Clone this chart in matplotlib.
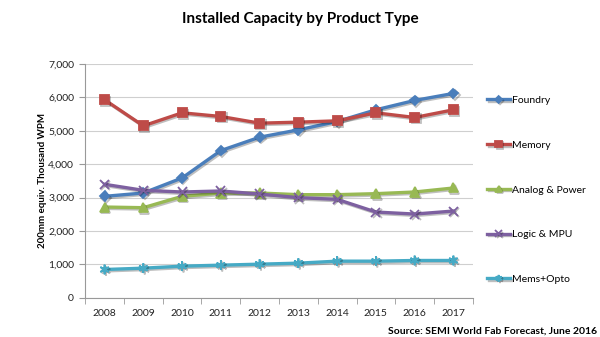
import matplotlib.pyplot as plt
import matplotlib.patheffects as pe

plt.rcParams['font.family'] = ['Lato', 'DejaVu Sans']

years = ['2008', '2009', '2010', '2011', '2012', '2013', '2014', '2015', '2016', '2017']
foundry = [3040, 3140, 3590, 4410, 4810, 5030, 5280, 5630, 5910, 6120]
memory = [5930, 5150, 5540, 5430, 5230, 5260, 5300, 5540, 5400, 5630]
analog = [2720, 2700, 3040, 3140, 3140, 3090, 3090, 3120, 3170, 3290]
logic = [3400, 3220, 3170, 3200, 3110, 3000, 2950, 2570, 2510, 2600]
mems = [850, 890, 950, 980, 1010, 1040, 1100, 1100, 1120, 1120]

series = [
    ('Foundry', foundry, '#4A7EBB', 'D', 5),
    ('Memory', memory, '#BE4B48', 's', 6.5),
    ('Analog & Power', analog, '#98B954', '^', 6.5),
    ('Logic & MPU', logic, '#7D60A0', 'x', 6.5),
    ('Mems+Opto', mems, '#46AAC5', (6, 2, 0), 7),
]

fig = plt.figure(figsize=(6, 3.37), dpi=100)
ax = fig.add_axes([0.142, 0.116, 0.646, 0.694])

shadow = [pe.SimpleLineShadow(offset=(1, -1), alpha=0.25), pe.Normal()]
x = list(range(len(years)))
for name, vals, color, marker, ms in series:
    ax.plot(x, vals, color=color, lw=2.4, marker=marker, ms=ms,
            mew=1.3, mec=color, label=name, path_effects=shadow)

ax.set_xlim(-0.5, len(years) - 0.5)
ax.set_ylim(0, 7000)
ax.set_yticks(range(0, 7001, 1000))
ax.set_yticklabels([f'{v:,}' for v in range(0, 7001, 1000)])
ax.set_xticks(x)
ax.set_xticklabels(years)
ax.set_xticks([i + 0.5 for i in range(-1, len(years))], minor=True)
ax.tick_params(axis='x', which='major', length=0, pad=8, labelsize=7.5, colors='#222222')
ax.tick_params(axis='x', which='minor', length=4, color='#999999')
ax.tick_params(axis='y', length=4, color='#999999', labelsize=7.5, colors='#222222', pad=4)
ax.yaxis.grid(True, color='#cfcfcf', lw=0.8)
ax.set_axisbelow(True)
for s in ['top', 'right']:
    ax.spines[s].set_visible(False)
for s in ['left', 'bottom']:
    ax.spines[s].set_color('#999999')
    ax.spines[s].set_linewidth(0.8)

ax.set_ylabel('200mm equiv. Thousand WPM', fontsize=7, fontweight='bold', labelpad=1)

fig.text(0.5, 0.945, 'Installed Capacity by Product Type', ha='center', va='center',
         fontsize=11, fontweight='bold')

fig.legend(loc='upper left', bbox_to_anchor=(0.805, 0.728), frameon=False,
           fontsize=7.5, labelspacing=3.4, handlelength=2.2, handletextpad=0.2,
           markerscale=0.7, borderaxespad=0)

fig.text(0.995, 0.004, 'Source: SEMI World Fab Forecast, June 2016', ha='right', va='bottom',
         fontsize=7.5, fontweight='bold')

fig.savefig('out.png', dpi=100)
